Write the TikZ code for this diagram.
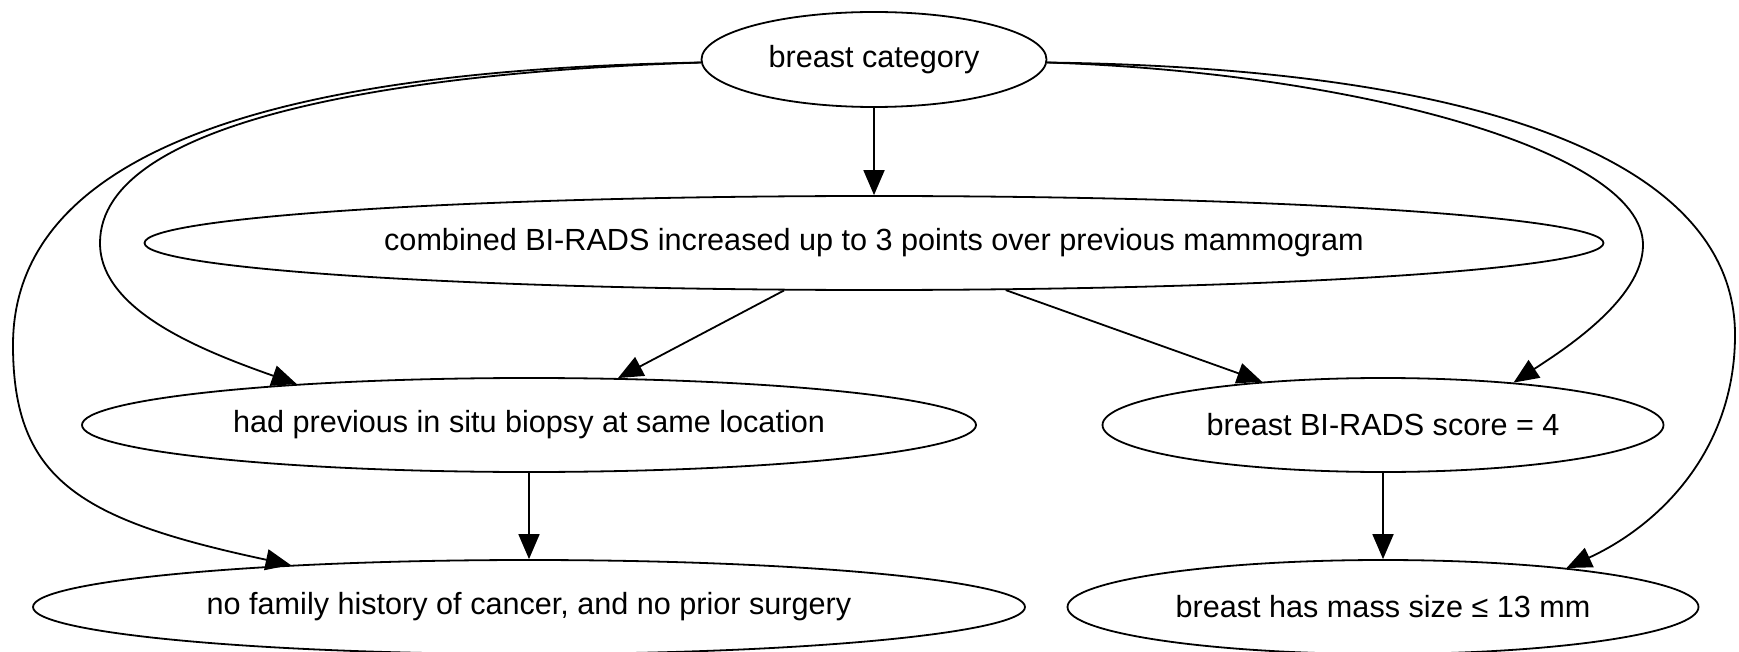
\documentclass[tikz,border=0pt]{standalone}
\usepackage{fontspec}
\setmainfont{Liberation Sans}
\usetikzlibrary{shapes.geometric}
\usetikzlibrary{arrows.meta}

\tikzset{
  cond/.style={draw,ellipse,inner sep=0pt,line width=0.9pt,font=\fontsize{15.3}{18}\selectfont},
  dep/.style={-{Triangle[length=12.5pt,width=10.5pt]},line width=0.9pt},
}

\begin{document}
\begin{tikzpicture}[x=0.5pt,y=-0.5pt]
  % Boundary
  \path[use as bounding box] (0,0) rectangle (1739,652);
  % Conditions
  \node[cond,minimum width=172.5pt,minimum height=47.5pt] (cat) at (874,59.5) {breast category};
  \node[cond,minimum width=729.5pt,minimum height=47pt] (comb) at (874,243) {combined BI-RADS increased up to 3 points over previous mammogram};
  \node[cond,minimum width=447pt,minimum height=47pt] (prev) at (529,425) {had previous in situ biopsy at same location};
  \node[cond,minimum width=280.5pt,minimum height=47pt] (score) at (1383,425) {breast BI-RADS score = 4};
  \node[cond,minimum width=496pt,minimum height=47pt] (fam) at (529,607) {no family history of cancer, and no prior surgery};
  \node[cond,minimum width=315.5pt,minimum height=47pt] (mass) at (1383,607) {breast has mass size ≤ 13 mm};
  % Straight dependencies
  \draw[dep] (cat) -- (comb);
  \draw[dep] (comb) -- (prev);
  \draw[dep] (comb) -- (score);
  \draw[dep] (prev) -- (fam);
  \draw[dep] (score) -- (mass);
  % Long dependencies round the sides
  \draw[dep] (cat.181) .. controls (400,72) and (100,120) .. (100,243) .. controls (100,310) and (200,350) .. (prev.170);
  \draw[dep] (cat.181) .. controls (400,68) and (13,110) .. (13,345) .. controls (13,480) and (80,520) .. (fam.170);
  \draw[dep] (cat.359) .. controls (1350,72) and (1643,150) .. (1643,245) .. controls (1643,300) and (1560,352) .. (score.18);
  \draw[dep] (cat.359) .. controls (1480,68) and (1735,160) .. (1735,335) .. controls (1735,450) and (1660,525) .. (mass.12);
\end{tikzpicture}
\end{document}
